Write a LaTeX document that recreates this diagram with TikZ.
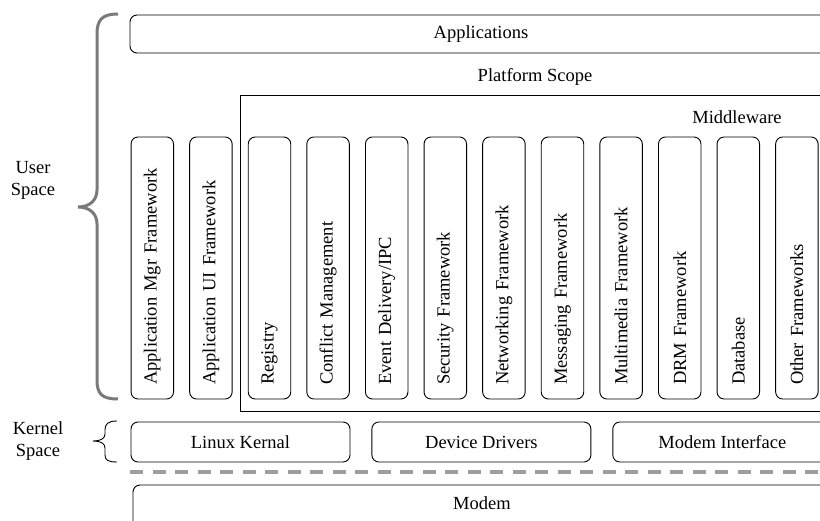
\documentclass[tikz,border=0pt]{standalone}
\usepackage{fontspec}
\setmainfont{Liberation Serif}
\usetikzlibrary{positioning}

\tikzset{
  layer/.style={draw, rounded corners=7pt, line width=0.9pt, inner sep=0pt},
  stack/.style={layer, rotate=90, minimum width=262pt, minimum height=42.5pt,
    text width=234pt, align=left, inner xsep=14pt},
  frame/.style={draw, line width=0.9pt},
  sep/.style={draw=black!38, line width=3.5pt, dash pattern=on 13pt off 9.5pt},
  ubrace/.style={draw=black!52, line width=3pt},
  kbrace/.style={draw, line width=0.9pt}
}

\begin{document}
\begin{tikzpicture}[x=1pt, y=-1pt, font=\fontsize{18.5}{22}\selectfont]
  \useasboundingbox (0,0) rectangle (820,521);
  \clip (0,0) rectangle (820,521);

  % Applications on top
  \node[layer, minimum width=702pt, minimum height=38pt] (apps) at (481,34) {Applications};

  % Platform scope and the middleware frame
  \node (scope) at (535,77) {Platform Scope};
  \draw[frame] (850,95) -- (240,95) -- (240,411) -- (850,411);
  \node (mw) at (737,117) {Middleware};

  % Framework columns
  \foreach \lbl [count=\i] in {Application Mgr Framework, Application UI Framework,
      Registry, Conflict Management, Event Delivery/IPC, Security Framework,
      Networking Framework, Messaging Framework, Multimedia Framework,
      DRM Framework, Database, Other Frameworks} {
    \node[stack] (fw\i) at ({152.3+58.6*(\i-1)},268) {\lbl};
  }

  % User space brace
  \draw[ubrace] (118,14) .. controls (102,14) and (97,20) .. (97,34) -- (97,190)
    .. controls (97,200) and (90,207) .. (78,207)
    .. controls (90,207) and (97,214) .. (97,224) -- (97,380)
    .. controls (97,394) and (102,399) .. (118,399);
  \node[align=center] (user) at (33,180) {User\\Space};

  % Kernel layer
  \node[layer, minimum width=219pt, minimum height=40pt] (linux) at (240.5,442) {Linux Kernal};
  \node[layer, minimum width=219pt, minimum height=40pt, right=21pt of linux] (drivers) {Device Drivers};
  \node[layer, minimum width=219pt, minimum height=40pt, right=21pt of drivers] (modemif) {Modem Interface};

  % Kernel space brace
  \draw[kbrace] (117,421) .. controls (108,421) and (105,424) .. (105,430) -- (105,434)
    .. controls (105,439) and (100,441) .. (93,441)
    .. controls (100,441) and (105,443) .. (105,448) -- (105,455)
    .. controls (105,460) and (108,462) .. (117,462);
  \node[align=center] (kernel) at (38,441) {Kernel\\Space};

  % Separator
  \draw[sep] (130,472) -- (820,472);

  % Modem
  \draw[layer] (133,485) rectangle (832,545);
  \node (modem) at (482,503) {Modem};
\end{tikzpicture}
\end{document}
